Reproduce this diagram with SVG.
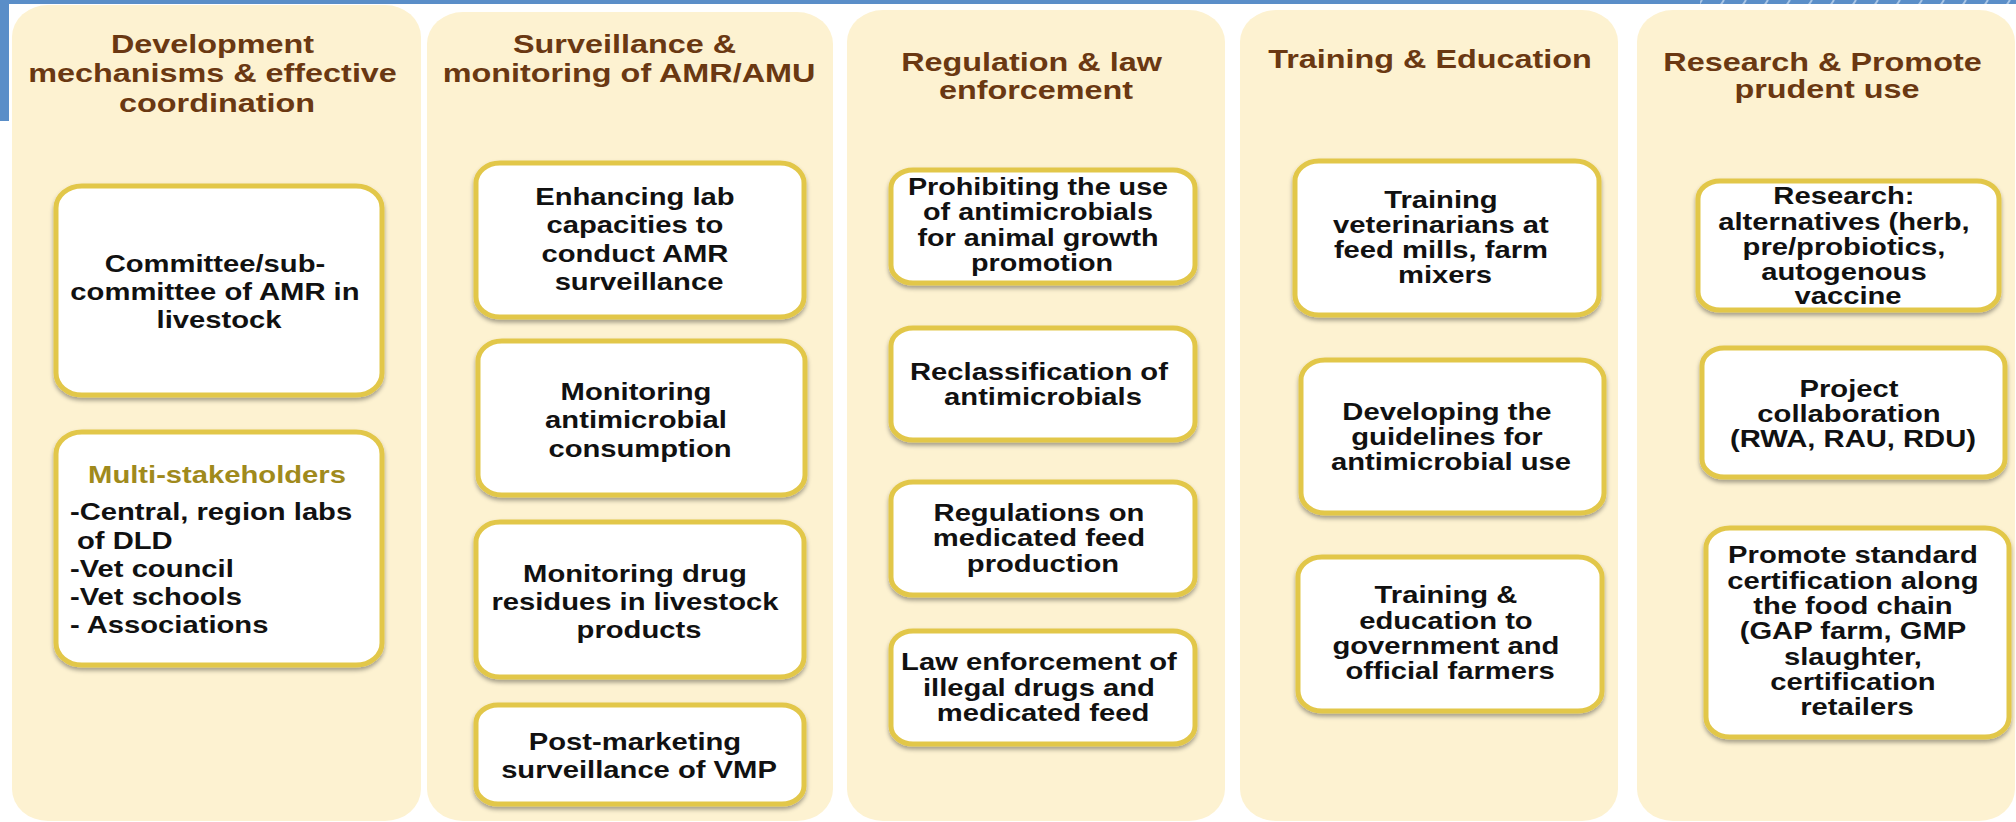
<svg xmlns="http://www.w3.org/2000/svg" width="2016" height="822" viewBox="0 0 2016 822">
  <defs>
    <style>
      .panel { fill: #FDF2D1; }
      .box { fill: #FFFFFF; stroke: #E2C74A; stroke-width: 5; filter: url(#shadow); }
      .title { font-family: "Liberation Sans", Arial, sans-serif; font-weight: bold; font-size: 25.5px; fill: #6A3812; text-anchor: middle; }
      .body { font-family: "Liberation Sans", Arial, sans-serif; font-weight: bold; font-size: 23px; fill: #111111; text-anchor: middle; }
      .list { font-family: "Liberation Sans", Arial, sans-serif; font-weight: bold; font-size: 23px; fill: #111111; text-anchor: start; }
      .sub { fill: #A08A1C; }
    </style>
    <filter id="shadow" x="-10%" y="-10%" width="120%" height="125%">
      <feDropShadow dx="0" dy="3" stdDeviation="2" flood-color="#000000" flood-opacity="0.35"/>
    </filter>
    <pattern id="hatch" width="22" height="6" patternUnits="userSpaceOnUse">
      <rect width="22" height="6" fill="#5A8EC8"/>
      <path d="M4 6 L8 0" stroke="#A9C6E6" stroke-width="2"/>
    </pattern>
  </defs>

  <!-- page frame: blue rule along the top and left edge -->
  <rect x="0" y="0" width="1700" height="4" fill="#5A8EC8"/>
  <rect x="1700" y="0" width="316" height="4" fill="url(#hatch)"/>
  <rect x="0" y="0" width="9" height="121" fill="#5A8EC8"/>

  <!-- column backgrounds -->
  <g id="columns">
    <rect class="panel" x="12" y="5" width="409" height="816" rx="36" ry="32"/>
    <rect class="panel" x="427" y="12" width="406" height="809" rx="36" ry="32"/>
    <rect class="panel" x="847" y="10" width="378" height="811" rx="36" ry="32"/>
    <rect class="panel" x="1240" y="10" width="378" height="811" rx="36" ry="32"/>
    <rect class="panel" x="1637" y="10" width="378" height="811" rx="36" ry="32"/>
  </g>

  <!-- column headings -->
  <g id="heading-coordination">
    <text class="title" transform="translate(217,0) scale(1.27,1)">
      <tspan x="0" y="53">Development</tspan>
      <tspan x="0" y="82">mechanisms &amp; effective</tspan>
      <tspan x="0" y="112">coordination</tspan>
    </text>
  </g>
  <g id="heading-surveillance">
    <text class="title" transform="translate(629,0) scale(1.27,1)">
      <tspan x="0" y="53">Surveillance &amp;</tspan>
      <tspan x="0" y="82">monitoring of AMR/AMU</tspan>
    </text>
  </g>
  <g id="heading-regulation">
    <text class="title" transform="translate(1036,0) scale(1.27,1)">
      <tspan x="0" y="71">Regulation &amp; law</tspan>
      <tspan x="0" y="99">enforcement</tspan>
    </text>
  </g>
  <g id="heading-training">
    <text class="title" transform="translate(1430,0) scale(1.27,1)">
      <tspan x="0" y="68">Training &amp; Education</tspan>
    </text>
  </g>
  <g id="heading-research">
    <text class="title" transform="translate(1827,0) scale(1.27,1)">
      <tspan x="0" y="71">Research &amp; Promote</tspan>
      <tspan x="0" y="98">prudent use</tspan>
    </text>
  </g>

  <!-- column 1 -->
  <g id="committee">
    <rect class="box" x="56" y="186" width="326" height="209" rx="26" ry="22"/>
    <text class="body" transform="translate(219,0) scale(1.27,1)">
      <tspan x="0" y="272">Committee/sub-</tspan>
      <tspan x="0" y="300">committee of AMR in</tspan>
      <tspan x="0" y="328">livestock</tspan>
    </text>
  </g>
  <g id="stakeholders">
    <rect class="box" x="56" y="432" width="326" height="233" rx="26" ry="22"/>
    <text class="body sub" transform="translate(217,0) scale(1.27,1)">
      <tspan x="0" y="483">Multi-stakeholders</tspan>
    </text>
    <text class="list" transform="translate(70,0) scale(1.27,1)">
      <tspan x="0" y="520">-Central, region labs</tspan>
      <tspan x="5.5" y="549">of DLD</tspan>
      <tspan x="0" y="577">-Vet council</tspan>
      <tspan x="0" y="605">-Vet schools</tspan>
      <tspan x="0" y="633">- Associations</tspan>
    </text>
  </g>

  <!-- column 2 -->
  <g id="lab-capacity">
    <rect class="box" x="476" y="163" width="328" height="154" rx="24" ry="20"/>
    <text class="body" transform="translate(639,0) scale(1.27,1)">
      <tspan x="0" y="205">Enhancing lab</tspan>
      <tspan x="0" y="233">capacities to</tspan>
      <tspan x="0" y="262">conduct AMR</tspan>
      <tspan x="0" y="290">surveillance</tspan>
    </text>
  </g>
  <g id="consumption">
    <rect class="box" x="478" y="341" width="327" height="154" rx="24" ry="20"/>
    <text class="body" transform="translate(640,0) scale(1.27,1)">
      <tspan x="0" y="400">Monitoring</tspan>
      <tspan x="0" y="428">antimicrobial</tspan>
      <tspan x="0" y="457">consumption</tspan>
    </text>
  </g>
  <g id="residues">
    <rect class="box" x="476" y="522" width="328" height="155" rx="24" ry="20"/>
    <text class="body" transform="translate(639,0) scale(1.27,1)">
      <tspan x="0" y="582">Monitoring drug</tspan>
      <tspan x="0" y="610">residues in livestock</tspan>
      <tspan x="0" y="638">products</tspan>
    </text>
  </g>
  <g id="post-marketing">
    <rect class="box" x="476" y="705" width="328" height="99" rx="22" ry="18"/>
    <text class="body" transform="translate(639,0) scale(1.27,1)">
      <tspan x="0" y="750">Post-marketing</tspan>
      <tspan x="0" y="778">surveillance of VMP</tspan>
    </text>
  </g>

  <!-- column 3 -->
  <g id="growth-promotion">
    <rect class="box" x="891" y="170" width="304" height="113" rx="22" ry="18"/>
    <text class="body" transform="translate(1042,0) scale(1.25,1)">
      <tspan x="0" y="195">Prohibiting the use</tspan>
      <tspan x="0" y="220.5">of antimicrobials</tspan>
      <tspan x="0" y="246">for animal growth</tspan>
      <tspan x="0" y="271.5">promotion</tspan>
    </text>
  </g>
  <g id="reclassification">
    <rect class="box" x="891" y="328" width="304" height="112" rx="22" ry="18"/>
    <text class="body" transform="translate(1043,0) scale(1.27,1)">
      <tspan x="0" y="380">Reclassification of</tspan>
      <tspan x="0" y="405">antimicrobials</tspan>
    </text>
  </g>
  <g id="medicated-feed">
    <rect class="box" x="891" y="482" width="304" height="113" rx="22" ry="18"/>
    <text class="body" transform="translate(1043,0) scale(1.27,1)">
      <tspan x="0" y="521">Regulations on</tspan>
      <tspan x="0" y="546">medicated feed</tspan>
      <tspan x="0" y="572">production</tspan>
    </text>
  </g>
  <g id="law-enforcement">
    <rect class="box" x="891" y="631" width="304" height="113" rx="22" ry="18"/>
    <text class="body" transform="translate(1043,0) scale(1.27,1)">
      <tspan x="0" y="670">Law enforcement of</tspan>
      <tspan x="0" y="696">illegal drugs and</tspan>
      <tspan x="0" y="721">medicated feed</tspan>
    </text>
  </g>

  <!-- column 4 -->
  <g id="train-vets">
    <rect class="box" x="1295" y="161" width="304" height="154" rx="24" ry="20"/>
    <text class="body" transform="translate(1445,0) scale(1.27,1)">
      <tspan x="0" y="208">Training</tspan>
      <tspan x="0" y="233">veterinarians at</tspan>
      <tspan x="0" y="258">feed mills, farm</tspan>
      <tspan x="0" y="283">mixers</tspan>
    </text>
  </g>
  <g id="guidelines">
    <rect class="box" x="1301" y="360" width="303" height="153" rx="24" ry="20"/>
    <text class="body" transform="translate(1451,0) scale(1.27,1)">
      <tspan x="0" y="420">Developing the</tspan>
      <tspan x="0" y="445">guidelines for</tspan>
      <tspan x="0" y="470">antimicrobial use</tspan>
    </text>
  </g>
  <g id="train-officials">
    <rect class="box" x="1298" y="557" width="304" height="154" rx="24" ry="20"/>
    <text class="body" transform="translate(1450,0) scale(1.27,1)">
      <tspan x="0" y="603">Training &amp;</tspan>
      <tspan x="0" y="629">education to</tspan>
      <tspan x="0" y="654">government and</tspan>
      <tspan x="0" y="679">official farmers</tspan>
    </text>
  </g>

  <!-- column 5 -->
  <g id="alternatives">
    <rect class="box" x="1698" y="181" width="301" height="129" rx="22" ry="18"/>
    <text class="body" transform="translate(1848,0) scale(1.27,1)">
      <tspan x="0" y="204">Research:</tspan>
      <tspan x="0" y="230">alternatives (herb,</tspan>
      <tspan x="0" y="255">pre/probiotics,</tspan>
      <tspan x="0" y="280">autogenous</tspan>
      <tspan x="0" y="304">vaccine</tspan>
    </text>
  </g>
  <g id="collaboration">
    <rect class="box" x="1702" y="348" width="303" height="129" rx="22" ry="18"/>
    <text class="body" transform="translate(1853,0) scale(1.27,1)">
      <tspan x="0" y="397">Project</tspan>
      <tspan x="0" y="422">collaboration</tspan>
      <tspan x="0" y="447">(RWA, RAU, RDU)</tspan>
    </text>
  </g>
  <g id="certification">
    <rect class="box" x="1706" y="528" width="303" height="209" rx="24" ry="20"/>
    <text class="body" transform="translate(1857,0) scale(1.27,1)">
      <tspan x="0" y="563">Promote standard</tspan>
      <tspan x="0" y="589">certification along</tspan>
      <tspan x="0" y="614">the food chain</tspan>
      <tspan x="0" y="639">(GAP farm, GMP</tspan>
      <tspan x="0" y="665">slaughter,</tspan>
      <tspan x="0" y="690">certification</tspan>
      <tspan x="0" y="715">retailers</tspan>
    </text>
  </g>

  <!-- no connectors between the columns -->
  <g id="connectors"/>
</svg>
